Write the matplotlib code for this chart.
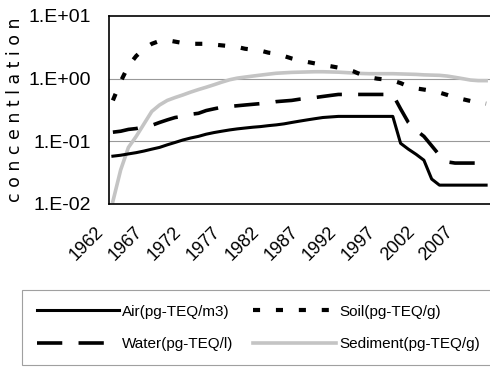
import matplotlib
matplotlib.use("Agg")
import matplotlib.pyplot as plt
import matplotlib.transforms as mtransforms

# data, one value per year 1962-2010
years = list(range(1962, 2011))

air = [0.058, 0.060, 0.063, 0.066, 0.070, 0.075, 0.080, 0.088, 0.096, 0.105,
       0.113, 0.120, 0.130, 0.138, 0.145, 0.152, 0.158, 0.163, 0.168, 0.172,
       0.178, 0.183, 0.190, 0.200, 0.210, 0.220, 0.230, 0.240, 0.245, 0.250,
       0.250, 0.250, 0.250, 0.250, 0.250, 0.250, 0.250, 0.093, 0.075, 0.062,
       0.050, 0.025, 0.020, 0.020, 0.020, 0.020, 0.020, 0.020, 0.020]

water = [0.140, 0.145, 0.155, 0.160, 0.170, 0.180, 0.200, 0.220, 0.240, 0.250,
         0.270, 0.280, 0.310, 0.330, 0.350, 0.360, 0.370, 0.380, 0.390, 0.400,
         0.410, 0.430, 0.440, 0.450, 0.470, 0.480, 0.500, 0.520, 0.540, 0.560,
         0.560, 0.560, 0.560, 0.560, 0.560, 0.560, 0.560, 0.330, 0.200, 0.150,
         0.120, 0.085, 0.060, 0.047, 0.045, 0.045, 0.045, 0.045, 0.045]

soil = [0.45, 0.90, 1.60, 2.30, 3.00, 3.60, 4.00, 4.10, 3.90, 3.70,
        3.60, 3.60, 3.60, 3.50, 3.40, 3.30, 3.20, 3.00, 2.90, 2.80,
        2.60, 2.50, 2.30, 2.10, 1.95, 1.85, 1.75, 1.66, 1.58, 1.50,
        1.42, 1.30, 1.15, 1.05, 1.00, 0.97, 0.93, 0.85, 0.75, 0.70,
        0.67, 0.64, 0.60, 0.55, 0.50, 0.47, 0.44, 0.41, 0.40]

sediment = [0.011, 0.035, 0.080, 0.120, 0.190, 0.300, 0.380, 0.450, 0.500, 0.550,
            0.610, 0.670, 0.730, 0.800, 0.880, 0.960, 1.020, 1.060, 1.100, 1.140,
            1.180, 1.220, 1.240, 1.260, 1.270, 1.280, 1.290, 1.290, 1.280, 1.270,
            1.250, 1.230, 1.210, 1.200, 1.200, 1.200, 1.200, 1.190, 1.180, 1.170,
            1.150, 1.140, 1.130, 1.100, 1.050, 1.000, 0.950, 0.930, 0.930]

tick_years = list(range(1962, 2011, 5))
y_ticks = [0.01, 0.1, 1, 10]
y_labels = ["1.E-02", "1.E-01", "1.E+00", "1.E+01"]

plt.rcParams["font.family"] = ["Liberation Sans Narrow", "Liberation Sans", "DejaVu Sans"]

fig = plt.figure(figsize=(4.9, 3.67), dpi=100)
ax = fig.add_axes([109/490, 1 - 204/367, 381/490, 188/367])

ax.plot(years, sediment, color="#c4c4c4", lw=2.6, label="Sediment(pg-TEQ/g)")
ax.plot(years, air, color="black", lw=2.2, label="Air(pg-TEQ/m3)")
ax.plot(years, water, color="black", lw=2.6, linestyle=(0, (7, 4.5)),
        label="Water(pg-TEQ/l)")
ax.plot(years, soil, color="black", lw=3, linestyle=(0, (1.7, 3.8)),
        label="Soil(pg-TEQ/g)")

ax.set_yscale("log")
ax.set_ylim(0.01, 10)
ax.set_xlim(1961.5, 2010.5)
ax.set_yticks(y_ticks)
ax.set_yticklabels(y_labels, fontsize=14)
ax.yaxis.set_minor_locator(plt.NullLocator())
ax.set_xticks(tick_years)
ax.set_xticklabels([str(y) for y in tick_years], rotation=45, ha="right",
                   rotation_mode="anchor", fontsize=13)
ax.tick_params(axis="both", length=0)
ax.tick_params(axis="y", pad=13)
ax.tick_params(axis="x", pad=14)
shift = mtransforms.ScaledTranslation(-18/100, 0, fig.dpi_scale_trans)
for lab in ax.get_xticklabels():
    lab.set_transform(lab.get_transform() + shift)

for v in [0.1, 1]:
    ax.axhline(v, color="#999999", lw=0.8, zorder=0)
ax.spines["right"].set_visible(False)
for s in ["left", "bottom", "top"]:
    ax.spines[s].set_linewidth(1.2)

fig.text(15/490, 1 - 110/367, "c o n c e n t l a t i o n", rotation=90,
         ha="center", va="center", fontsize=12.5, family="DejaVu Sans")

h, l = ax.get_legend_handles_labels()
order = [1, 2, 3, 0]
leg = fig.legend([h[i] for i in order], [l[i] for i in order], ncol=2,
                 loc="upper left", bbox_to_anchor=(22/490, 1 - 290/367),
                 handlelength=5.4, handletextpad=0.2, columnspacing=1.3,
                 labelspacing=1.2, borderpad=0.95,
                 fontsize=11, frameon=True, fancybox=False, borderaxespad=0)
leg.get_frame().set_edgecolor("#888888")
leg.get_frame().set_linewidth(0.8)

fig.savefig("out.png", dpi=100)
